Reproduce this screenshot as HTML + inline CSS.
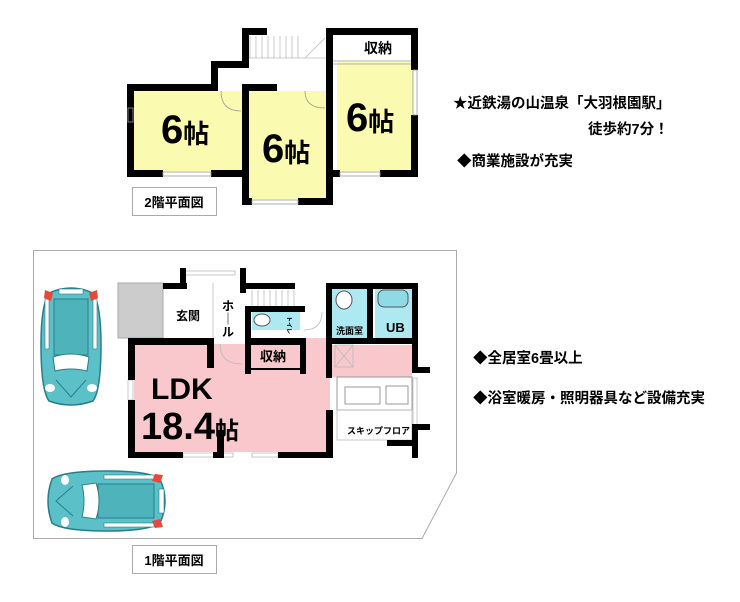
<!DOCTYPE html>
<html><head><meta charset="utf-8"><style>
html,body{margin:0;padding:0;background:#fff}
svg{display:block}
text{font-family:"Liberation Sans","Noto Sans CJK JP",sans-serif;font-weight:bold;fill:#000}
</style></head><body>
<svg width="740" height="602" viewBox="0 0 740 602" xmlns="http://www.w3.org/2000/svg">
<defs>
<g id="car">
  <path d="M8,8 Q30,-2 52,8 Q60,20 60,60 Q60,105 52,116 Q30,124 8,116 Q0,105 0,60 Q0,20 8,8Z" fill="#5bc0c8" stroke="#2a7d88" stroke-width="1.5"/>
  <rect x="13" y="14" width="34" height="56" fill="#4fb3bb" stroke="#2a7d88"/>
  <path d="M12,72 Q30,66 48,72 L46,86 Q30,82 14,86Z" fill="#fff" stroke="#2a7d88"/>
  <rect x="4" y="14" width="4" height="50" fill="#fff" stroke="#2a7d88" stroke-width="0.6"/>
  <rect x="52" y="14" width="4" height="50" fill="#fff" stroke="#2a7d88" stroke-width="0.6"/>
  <path d="M4,5 L12,8 L10,16 L3,13Z" fill="#e8483a"/>
  <path d="M56,5 L48,8 L50,16 L57,13Z" fill="#e8483a"/>
  <rect x="18" y="4" width="24" height="5" fill="#fff" stroke="#2a7d88" stroke-width="0.6"/>
  <ellipse cx="9" cy="103" rx="5" ry="4" fill="#fff"/>
  <ellipse cx="51" cy="103" rx="5" ry="4" fill="#fff"/>
  <path d="M15,95 L30,112 L45,95" fill="none" stroke="#2a7d88"/>
</g>
</defs>

<!-- ===== 2F ===== -->
<rect x="134" y="91" width="109" height="80" fill="#fafab0"/>
<rect x="248" y="91" width="80" height="108" fill="#fafab0"/>
<rect x="337" y="62" width="76" height="109" fill="#fafab0"/>
<g stroke="#bbb" stroke-width="0.8">
<line x1="250" y1="36" x2="250" y2="58"/><line x1="256" y1="36" x2="256" y2="58"/><line x1="262" y1="36" x2="262" y2="58"/><line x1="268" y1="36" x2="268" y2="58"/><line x1="274" y1="36" x2="274" y2="58"/><line x1="280" y1="36" x2="280" y2="58"/><line x1="286" y1="36" x2="286" y2="58"/><line x1="292" y1="36" x2="292" y2="58"/><line x1="298" y1="36" x2="298" y2="58"/>
<line x1="245" y1="58" x2="330" y2="58"/><line x1="305" y1="58" x2="325" y2="38"/>
</g>
<g fill="#000">
<rect x="127" y="84" width="86" height="7"/>
<rect x="127" y="84" width="7" height="93"/>
<rect x="127" y="170" width="36" height="7"/><rect x="211" y="170" width="38" height="7"/>
<rect x="211" y="61" width="7" height="30"/><rect x="211" y="61" width="35" height="7"/>
<rect x="242" y="28" width="7" height="40"/><rect x="242" y="28" width="25" height="7"/>
<rect x="242" y="84" width="7" height="121"/><rect x="242" y="84" width="35" height="7"/>
<rect x="242" y="198" width="10" height="7"/><rect x="298" y="198" width="34" height="7"/>
<rect x="326" y="28" width="7" height="177"/>
<rect x="326" y="28" width="92" height="7"/>
<rect x="411" y="28" width="7" height="42"/><rect x="411" y="115" width="7" height="62"/>
<rect x="380" y="170" width="38" height="7"/><rect x="332" y="170" width="8" height="7"/>
</g>
<g stroke="#999" stroke-width="0.8" fill="none">
<line x1="333" y1="61" x2="411" y2="61"/><line x1="333" y1="64" x2="411" y2="64"/>
<rect x="163" y="172" width="48" height="4"/><rect x="252" y="200" width="46" height="4"/><rect x="340" y="172" width="40" height="4"/>
<rect x="413" y="70" width="4" height="45"/><rect x="128" y="108" width="5" height="14"/>
<path d="M221,91 Q221,111 241,111"/><path d="M305,91 Q305,108 325,108"/>
</g>
<text x="378" y="53" font-size="14" text-anchor="middle">収納</text>
<text x="161" y="143" font-size="40">6<tspan font-size="26">帖</tspan></text>
<text x="262" y="162" font-size="40">6<tspan font-size="26">帖</tspan></text>
<text x="346" y="131" font-size="40">6<tspan font-size="26">帖</tspan></text>
<rect x="132.5" y="187.5" width="84" height="28" fill="#fff" stroke="#aaa"/>
<text x="174" y="207" font-size="13" text-anchor="middle">2階平面図</text>

<!-- ===== 1F ===== -->
<path d="M33.5,250.5 L456.5,250.5 L456.5,473 L422,538.5 L33.5,538.5Z" fill="none" stroke="#aaa"/>
<use href="#car" x="41" y="285"/>
<use href="#car" transform="translate(168,471) rotate(90)"/>
<rect x="118" y="283" width="45" height="55" fill="#ccc" stroke="#aaa"/>
<rect x="134" y="344" width="196" height="108" fill="#f8c8cc"/>
<rect x="245" y="338" width="85" height="10" fill="#f8c8cc"/>
<rect x="330" y="345" width="82" height="32" fill="#f8c8cc"/>
<rect x="337" y="377" width="75" height="33" fill="#fff" stroke="#999"/>
<rect x="345" y="387" width="35" height="17" fill="#fff" stroke="#999"/>
<rect x="386" y="386" width="22" height="18" fill="#fff" stroke="#999"/>
<rect x="252" y="311" width="48" height="19" fill="#aee8f0"/>
<rect x="332" y="288" width="38" height="50" fill="#aee8f0"/>
<rect x="375" y="288" width="38" height="50" fill="#aee8f0"/>
<rect x="378" y="290" width="30" height="17" rx="6" fill="#8edbe6" stroke="#555"/>
<ellipse cx="344" cy="300" rx="8" ry="9" fill="#fff" stroke="#555"/>
<ellipse cx="262" cy="320" rx="8" ry="6" fill="#fff" stroke="#555"/>
<g stroke="#bbb" stroke-width="0.8" fill="none">
<line x1="252" y1="290" x2="252" y2="307"/><line x1="258" y1="290" x2="258" y2="307"/><line x1="264" y1="290" x2="264" y2="307"/><line x1="270" y1="290" x2="270" y2="307"/><line x1="276" y1="290" x2="276" y2="307"/><line x1="282" y1="290" x2="282" y2="307"/><line x1="288" y1="290" x2="288" y2="307"/><line x1="294" y1="290" x2="294" y2="307"/>
<line x1="213" y1="283" x2="213" y2="338"/>
<rect x="335" y="345" width="18" height="22"/><line x1="335" y1="345" x2="353" y2="367"/><line x1="353" y1="345" x2="335" y2="367"/>
<rect x="337" y="410" width="75" height="30"/>
<path d="M220,344 Q220,364 242,364"/><path d="M304,330 Q322,330 322,312"/>
<rect x="183" y="453" width="50" height="4"/><rect x="252" y="453" width="26" height="4"/>
<rect x="413" y="378" width="4" height="50"/><rect x="128" y="380" width="5" height="20"/>
<rect x="185" y="271" width="50" height="4"/>
</g>
<g fill="#000">
<rect x="128" y="338" width="86" height="7"/>
<rect x="128" y="338" width="7" height="42"/><rect x="128" y="400" width="7" height="58"/>
<rect x="128" y="452" width="55" height="6"/><rect x="213" y="452" width="10" height="6"/>
<rect x="217" y="430" width="7" height="28"/>
<rect x="207" y="338" width="7" height="30"/>
<rect x="278" y="452" width="55" height="6"/>
<rect x="326" y="410" width="7" height="48"/>
<rect x="163" y="283" width="24" height="6"/><rect x="180" y="268" width="6" height="20"/>
<rect x="240" y="268" width="6" height="25"/><rect x="240" y="283" width="55" height="6"/>
<rect x="245" y="306" width="60" height="6"/><rect x="245" y="306" width="6" height="68"/>
<rect x="245" y="338" width="60" height="7"/><rect x="300" y="338" width="6" height="36"/>
<rect x="245" y="368" width="61" height="2"/>
<rect x="326" y="283" width="6" height="60"/><rect x="326" y="283" width="92" height="6"/>
<rect x="326" y="338" width="92" height="6"/><rect x="326" y="338" width="6" height="40"/>
<rect x="367" y="283" width="6" height="60"/>
<rect x="412" y="283" width="6" height="90"/><rect x="412" y="367" width="18" height="6"/>
<rect x="412" y="424" width="18" height="6"/><rect x="412" y="424" width="6" height="34"/>
<rect x="387" y="440" width="31" height="6"/>
</g>
<text x="176" y="320" font-size="12">玄関</text>
<text x="228" y="310" font-size="12" text-anchor="middle">ホ</text>
<text x="228" y="323" font-size="12" text-anchor="middle">｜</text>
<text x="228" y="336" font-size="12" text-anchor="middle">ル</text>
<text x="287" y="316" font-size="6" transform="rotate(90 287 316)">トイレ</text>
<text x="336" y="334" font-size="9">洗面室</text>
<text x="386" y="332" font-size="13">UB</text>
<text x="273" y="361" font-size="13" text-anchor="middle">収納</text>
<text x="347" y="434" font-size="9">スキップフロア</text>
<text x="151" y="399" font-size="30" style="font-weight:bold">LDK</text>
<text x="141" y="439" font-size="38" style="font-weight:bold">18.4<tspan font-size="24">帖</tspan></text>
<rect x="132.5" y="545.5" width="84" height="28" fill="#fff" stroke="#aaa"/>
<text x="174" y="565" font-size="13" text-anchor="middle">1階平面図</text>

<text x="453" y="108" font-size="14.5">★近鉄湯の山温泉「大羽根園駅」</text>
<text x="588" y="134" font-size="14.5">徒歩約7分！</text>
<text x="457" y="166" font-size="14.5">◆商業施設が充実</text>
<text x="473" y="363" font-size="14.5">◆全居室6畳以上</text>
<text x="473" y="403" font-size="14.5">◆浴室暖房・照明器具など設備充実</text>
</svg>
</body></html>
